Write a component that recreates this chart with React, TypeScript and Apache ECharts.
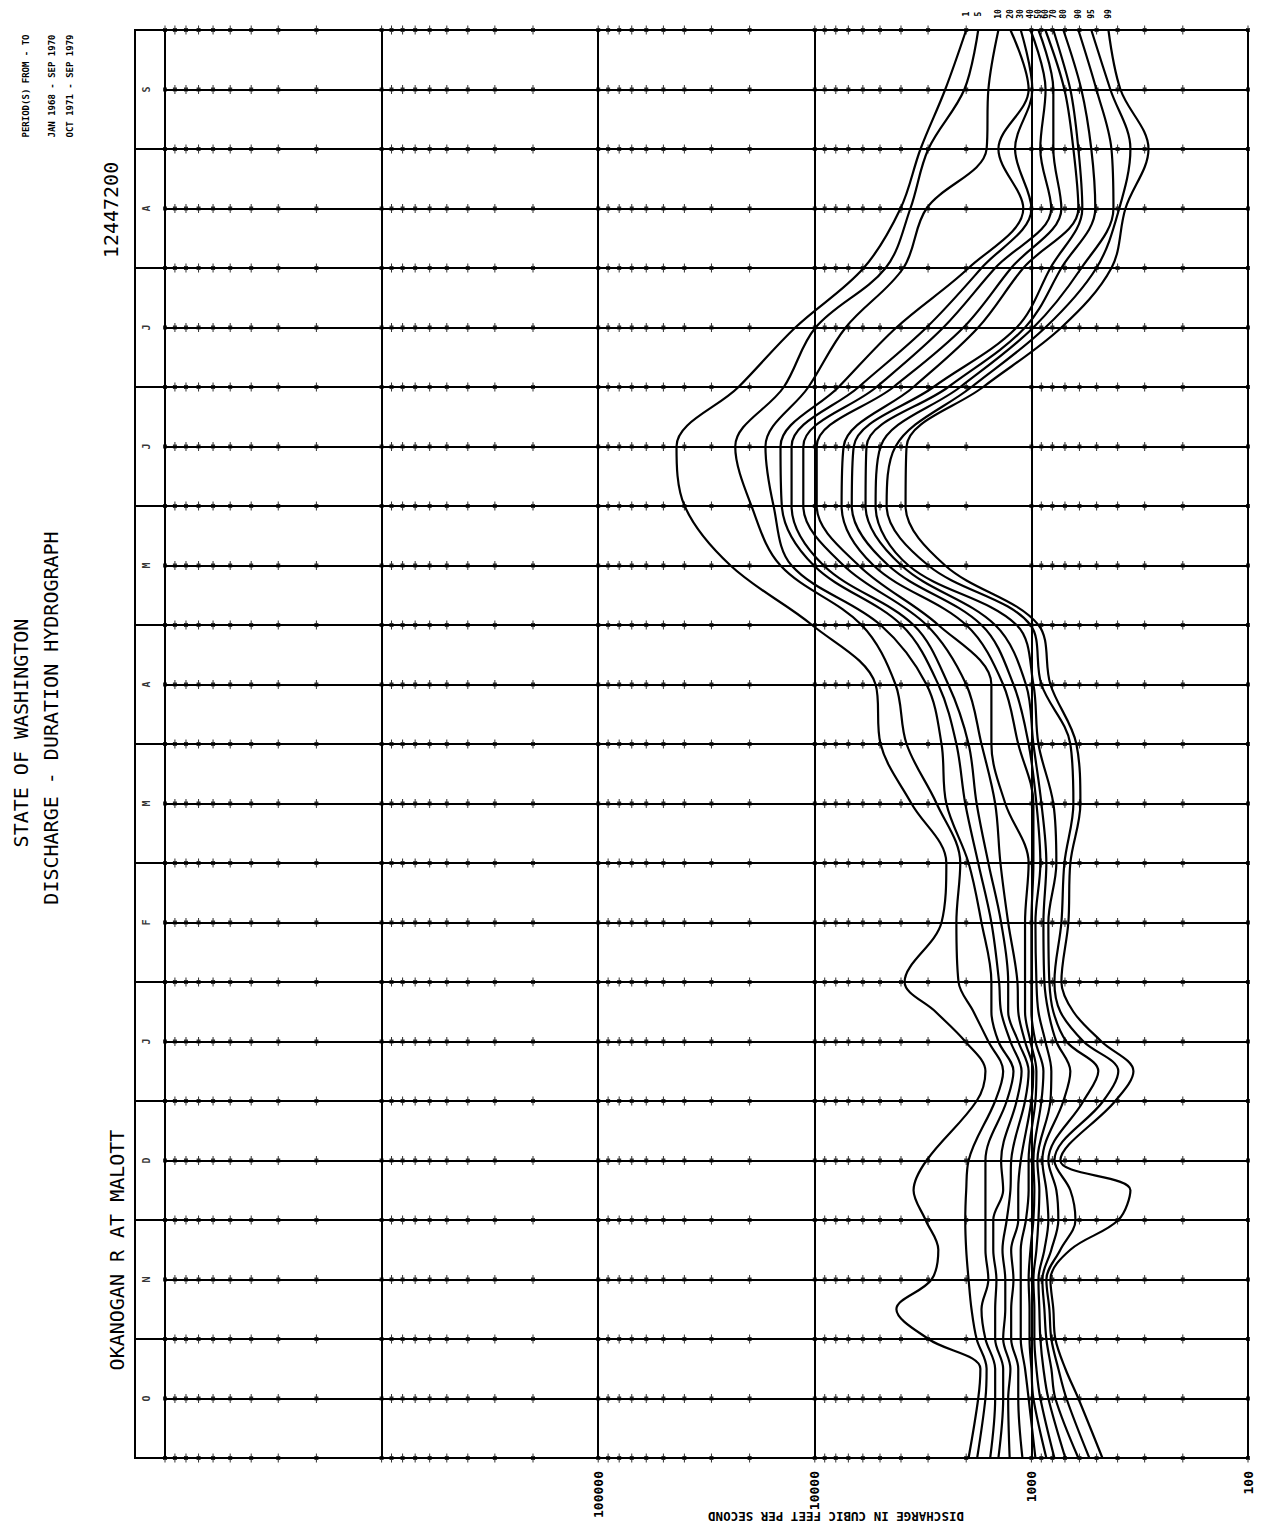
import React, { useEffect, useRef } from 'react';
import * as echarts from 'echarts';

// Month letters of the water year (October at the bottom, September at the top)
const MONTHS = ['O', 'N', 'D', 'J', 'F', 'M', 'A', 'M', 'J', 'J', 'A', 'S'];

// Time positions in months since October 1
const TIMES = [0, 0.5, 0.75, 1, 1.25, 1.5, 1.75, 2, 2.25, 2.5, 3, 3.25, 3.5, 3.75, 4, 4.5, 5, 5.5, 6, 6.5, 7, 7.5, 8, 8.5, 9, 9.5, 10, 10.5, 11, 11.5, 12];

// Percent-of-time labels for the duration curves
const PERCENTS = ['1', '5', '10', '20', '30', '40', '50', '60', '70', '80', '90', '95', '99'];

// Discharge (cfs) of each duration curve at TIMES
const C1 = [1950, 1760, 1720, 2990, 4200, 2890, 2690, 3080, 3500, 3050, 1790, 1630, 2020, 2770, 3850, 2600, 2470, 3580, 4970, 5240, 10300, 24500, 39900, 43500, 22500, 12300, 5950, 4020, 3250, 2500, 2000];
const C2 = [1780, 1630, 1610, 1790, 1890, 1950, 2000, 2020, 2000, 1950, 1470, 1350, 1580, 1850, 2170, 2220, 2130, 2740, 3770, 4240, 6080, 14400, 19600, 23300, 13900, 9910, 4710, 3620, 2990, 2040, 1760];
const C3 = [1550, 1470, 1470, 1630, 1700, 1580, 1630, 1630, 1630, 1630, 1300, 1210, 1420, 1530, 1530, 1700, 1950, 2470, 2600, 3050, 4970, 12800, 15500, 16900, 10700, 7200, 3900, 3050, 1610, 1580, 1420];
const C4 = [1420, 1350, 1350, 1470, 1470, 1450, 1500, 1500, 1350, 1380, 1170, 1110, 1250, 1380, 1410, 1530, 1760, 2020, 2220, 2690, 3980, 10100, 14200, 14400, 7760, 4200, 1950, 1090, 1420, 1030, 1250];
const C5 = [1260, 1280, 1250, 1350, 1320, 1320, 1360, 1300, 1250, 1240, 1070, 1030, 1150, 1280, 1280, 1380, 1580, 1790, 1950, 2420, 3500, 9100, 12800, 12800, 6270, 3050, 1700, 1000, 1190, 990, 1120];
const C6 = [1100, 1150, 1150, 1240, 1240, 1210, 1240, 1150, 1150, 1120, 1000, 980, 1070, 1150, 1160, 1280, 1390, 1470, 1700, 2000, 3050, 7360, 11300, 11300, 5190, 2550, 1470, 810, 910, 860, 1010];
const C7 = [958, 1030, 1070, 1120, 1120, 1120, 1120, 1060, 1030, 1030, 958, 948, 1010, 1070, 1070, 1070, 1030, 1320, 1530, 1530, 2690, 6270, 9800, 9800, 4330, 2060, 1240, 727, 792, 792, 928];
const C8 = [853, 979, 1000, 1020, 1020, 1030, 1010, 979, 969, 979, 899, 880, 958, 1000, 1000, 1000, 979, 979, 1150, 1350, 2000, 5350, 7520, 7360, 3500, 1760, 1090, 607, 640, 704, 862];
const C9 = [783, 909, 948, 969, 969, 979, 948, 928, 919, 938, 817, 809, 862, 928, 948, 958, 909, 948, 1030, 1210, 1700, 4570, 6750, 6610, 2830, 1170, 817, 582, 607, 661, 792];
const C10 = [697, 835, 880, 909, 919, 928, 871, 835, 853, 890, 712, 661, 767, 835, 871, 880, 853, 899, 979, 1060, 1470, 3980, 5830, 5770, 2420, 1070, 727, 507, 529, 588, 712];
const C11 = [607, 775, 809, 853, 871, 890, 809, 751, 767, 835, 575, 491, 689, 792, 826, 835, 767, 792, 928, 979, 1170, 3690, 5240, 4970, 2130, 979, 588, 418, 427, 501, 607];
const C12 = [540, 689, 751, 809, 826, 853, 735, 626, 661, 783, 466, 397, 575, 735, 783, 727, 704, 640, 661, 899, 1010, 2990, 4660, 4240, 1890, 862, 501, 393, 349, 432, 529];
const C13 = [470, 607, 697, 775, 792, 817, 661, 397, 349, 735, 410, 338, 475, 640, 727, 675, 661, 594, 620, 817, 928, 2500, 3810, 3770, 1670, 727, 427, 368, 288, 388, 441];

// Log-axis minor tick multipliers and decades
const TICK_MULTS = [1, 2, 3, 4, 5, 6, 7, 8, 9];
const DECADES = [100, 1000, 10000, 100000, 1000000];
const AXIS_MIN = 100;
const AXIS_MAX = 10000000;

export default function App() {
  const ref = useRef<HTMLDivElement>(null);

  useEffect(() => {
    const el = ref.current;
    if (!el) return;
    const chart = echarts.init(el, undefined, { renderer: 'svg' });
    const FONT = 'DejaVu Sans Mono';
    const curves = [C1, C2, C3, C4, C5, C6, C7, C8, C9, C10, C11, C12, C13];

    const rows: number[] = [];
    for (let i = 0; i <= MONTHS.length * 2; i++) rows.push(i / 2);
    const tickValues: number[] = [];
    DECADES.forEach((d) => TICK_MULTS.forEach((m) => tickValues.push(m * d)));
    tickValues.push(AXIS_MAX);
    const tickData: number[][] = [];
    rows.forEach((r) => tickValues.forEach((v) => tickData.push([v, r])));

    const lineSeries = curves.map((c, idx) => ({
      type: 'line',
      name: PERCENTS[idx],
      xAxisIndex: 0,
      yAxisIndex: 0,
      data: TIMES.map((t, i) => [c[i], t]),
      showSymbol: false,
      symbol: 'none',
      smooth: 0.35,
      silent: true,
      z: 4,
      lineStyle: { color: '#000', width: 2.2 },
    }));

    const option: any = {
      animation: false,
      backgroundColor: '#fff',
      grid: [
        { left: 165, right: 14, top: 30, bottom: 68, show: true, borderColor: '#000', borderWidth: 2, backgroundColor: 'rgba(0,0,0,0)' },
        { left: 135, width: 30, top: 30, bottom: 68, show: true, borderColor: '#000', borderWidth: 2, backgroundColor: 'rgba(0,0,0,0)' },
      ],
      xAxis: [
        {
          type: 'log',
          logBase: 10,
          min: AXIS_MIN,
          max: AXIS_MAX,
          inverse: true,
          splitNumber: 5,
          gridIndex: 0,
          axisLine: { show: false },
          axisTick: { show: false },
          splitLine: { show: true, lineStyle: { color: '#000', width: 2 } },
          axisLabel: {
            rotate: 90,
            margin: 13,
            color: '#000',
            fontFamily: FONT,
            fontWeight: 'bold',
            fontSize: 13,
            formatter: (v: number) => {
              const n = Math.round(v);
              return n <= 100000 ? String(n) : '';
            },
          },
        },
        { type: 'value', min: 0, max: 30, gridIndex: 1, show: false },
      ],
      yAxis: [
        {
          type: 'value',
          min: 0,
          max: 12,
          interval: 0.5,
          gridIndex: 0,
          axisLine: { show: false },
          axisTick: { show: false },
          axisLabel: { show: false },
          splitLine: { show: true, lineStyle: { color: '#000', width: 1.8 } },
        },
        {
          type: 'value',
          min: 0,
          max: 12,
          interval: 1,
          gridIndex: 1,
          axisLine: { show: false },
          axisTick: { show: false },
          axisLabel: { show: false },
          splitLine: { show: true, lineStyle: { color: '#000', width: 2 } },
        },
      ],
      series: [
        {
          type: 'scatter',
          xAxisIndex: 0,
          yAxisIndex: 0,
          data: tickData,
          symbol: 'path://M1.5,0H2.5V2.5H4V6.5H2.5V9H1.5V6.5H0V2.5H1.5Z',
          symbolSize: [4, 9],
          itemStyle: { color: '#000' },
          silent: true,
          z: 3,
        },
        {
          type: 'scatter',
          xAxisIndex: 1,
          yAxisIndex: 1,
          data: MONTHS.map((m, i) => ({ value: [11, i + 0.5], name: m })),
          symbolSize: 1,
          itemStyle: { color: 'rgba(0,0,0,0)' },
          silent: true,
          label: {
            show: true,
            position: 'inside',
            rotate: 90,
            formatter: (p: any) => p.name,
            color: '#000',
            fontFamily: FONT,
            fontWeight: 'bold',
            fontSize: 10,
          },
        },
        ...lineSeries,
      ],
    };

    chart.setOption(option);

    const vtext = (text: string, x: number, y: number, font: string, rotation = Math.PI / 2) => ({
      type: 'text',
      x,
      y,
      rotation,
      silent: true,
      style: {
        text,
        fill: '#000',
        font,
        textAlign: 'center',
        textVerticalAlign: 'middle',
        align: 'center',
        verticalAlign: 'middle',
      },
    });

    const titleFont = `20px "${FONT}"`;
    const smallFont = `bold 9px "${FONT}"`;
    const graphics: any[] = [
      vtext('PERIOD(S) FROM - TO', 26, 86, smallFont),
      vtext('JAN 1968 - SEP 1970', 52, 86, smallFont),
      vtext('OCT 1971 - SEP 1979', 70, 86, smallFont),
      vtext('12447200', 111, 210, titleFont),
      vtext('STATE OF WASHINGTON', 21, 733, titleFont),
      vtext('DISCHARGE - DURATION HYDROGRAPH', 51, 718, titleFont),
      vtext('OKANOGAN R AT MALOTT', 117, 1250, titleFont),
      vtext('DISCHARGE IN CUBIC FEET PER SECOND', 836, 1516, `bold 12.5px "${FONT}"`, Math.PI),
    ];

    curves.forEach((c, idx) => {
      const p = chart.convertToPixel({ gridIndex: 0 }, [c[c.length - 1], TIMES[TIMES.length - 1]]) as number[];
      if (p && isFinite(p[0])) {
        graphics.push(vtext(PERCENTS[idx], p[0], 14, `bold 8px "${FONT}"`));
      }
    });

    chart.setOption({ graphic: graphics });

    return () => {
      chart.dispose();
    };
  }, []);

  return (
    <div
      ref={ref}
      style={{ position: 'absolute', left: 0, top: 0, width: 1262, height: 1526, background: '#fff' }}
    />
  );
}
